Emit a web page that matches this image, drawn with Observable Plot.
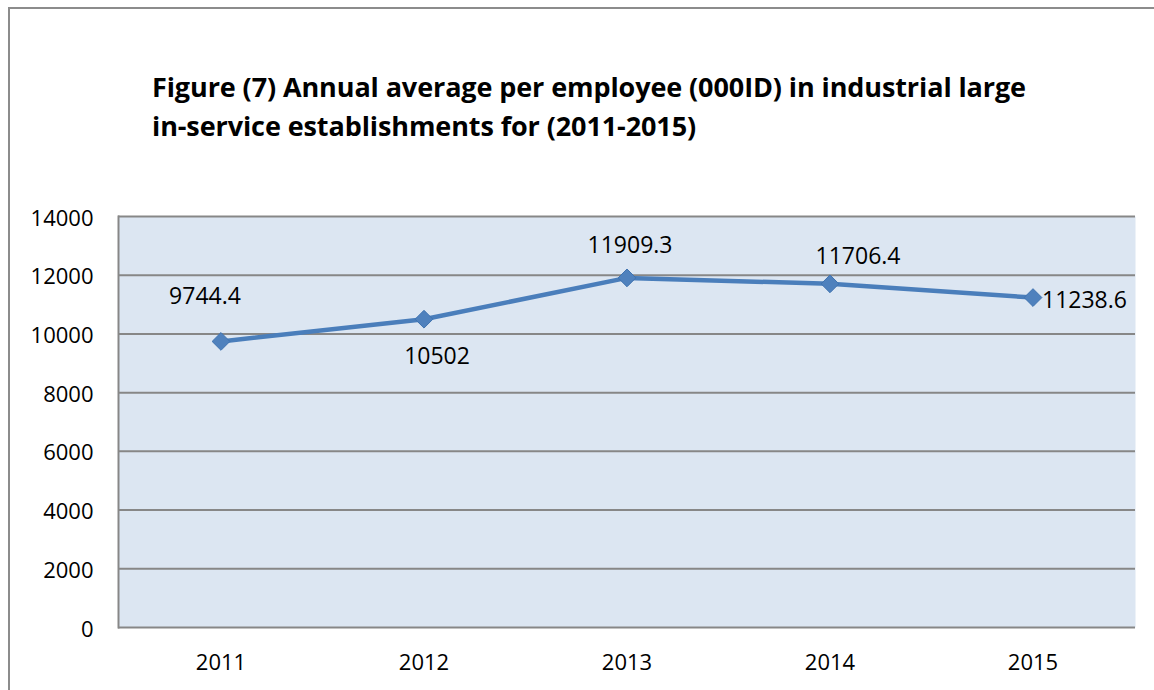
<!DOCTYPE html>
<html>
<head>
<meta charset="utf-8">
<script src="https://cdn.jsdelivr.net/npm/d3@7"></script>
<script src="https://cdn.jsdelivr.net/npm/@observablehq/plot@0.6"></script>
<style>
  html, body { margin: 0; padding: 0; background: #fff; }
  #wrap { position: relative; width: 1154px; height: 690px; overflow: hidden; font-family: "Open Sans", Lato, sans-serif; }
  #frame { position: absolute; left: 8px; top: 7px; width: 1160px; height: 700px; border: 2px solid #8c8c8c; box-sizing: border-box; }
  #title { position: absolute; left: 152px; top: 67px; font-family: "Open Sans", sans-serif; font-weight: bold; font-size: 27px; line-height: 39px; color: #000; white-space: nowrap; letter-spacing: -0.1px; }
  #chart { position: absolute; left: 0; top: 160px; }
</style>
</head>
<body>
<div id="wrap">
  <div id="frame"></div>
  <div id="title">Figure (7) Annual average per employee (000ID) in industrial large<br>in-service establishments for (2011-2015)</div>
  <div id="chart"></div>
</div>
<script>
const years = ["2011", "2012", "2013", "2014", "2015"];
const values = [9744.4, 10502, 11909.3, 11706.4, 11238.6];
const labels = ["9744.4", "10502", "11909.3", "11706.4", "11238.6"];
const yTicks = [0, 2000, 4000, 6000, 8000, 10000, 12000, 14000];
// label placement relative to each point: [dx, dy, anchor]
const labelDx = [-16, 13, 3, 28, 9];
const labelDy = [-45, 37, -32, -27, 3];
const labelAnchor = ["middle", "middle", "middle", "middle", "start"];

const data = years.map((y, i) => ({year: y, value: values[i], label: labels[i]}));

const lineColor = "#4a7ebb";
const fontFam = "'Open Sans', Lato, sans-serif";

const chart = Plot.plot({
  width: 1154,
  height: 530,
  marginLeft: 118,
  marginRight: 19,
  marginTop: 56,
  marginBottom: 63,
  style: {fontFamily: fontFam, fontSize: "22px", color: "#000", background: "transparent", overflow: "visible"},
  x: {type: "band", domain: years, padding: 0, label: null},
  y: {domain: [0, 14000], label: null},
  marks: [
    Plot.frame({fill: "#dce6f2", stroke: null}),
    Plot.gridY(yTicks, {stroke: "#878787", strokeOpacity: 1, strokeWidth: 2}),
    Plot.frame({anchor: "left", stroke: "#878787", strokeWidth: 2}),
    Plot.axisY(yTicks, {tickSize: 0, tickPadding: 25, fontSize: 22, fill: "#000", dy: 2, tickFormat: d => String(d)}),
    Plot.axisX({tickSize: 0, tickPadding: 27, fontSize: 22, fill: "#000"}),
    Plot.line(data, {x: "year", y: "value", stroke: lineColor, strokeWidth: 4.5}),
    Plot.dot(data, {x: "year", y: "value", symbol: "diamond2", r: 8, fill: "#4f81bd", stroke: "#3f73b0", strokeWidth: 1}),
    ...data.map((d, i) => Plot.text([d], {
      x: "year", y: "value", text: "label",
      dx: labelDx[i], dy: labelDy[i], textAnchor: labelAnchor[i],
      fontSize: 23, fill: "#000"
    }))
  ]
});
document.getElementById("chart").appendChild(chart);
</script>
</body>
</html>
